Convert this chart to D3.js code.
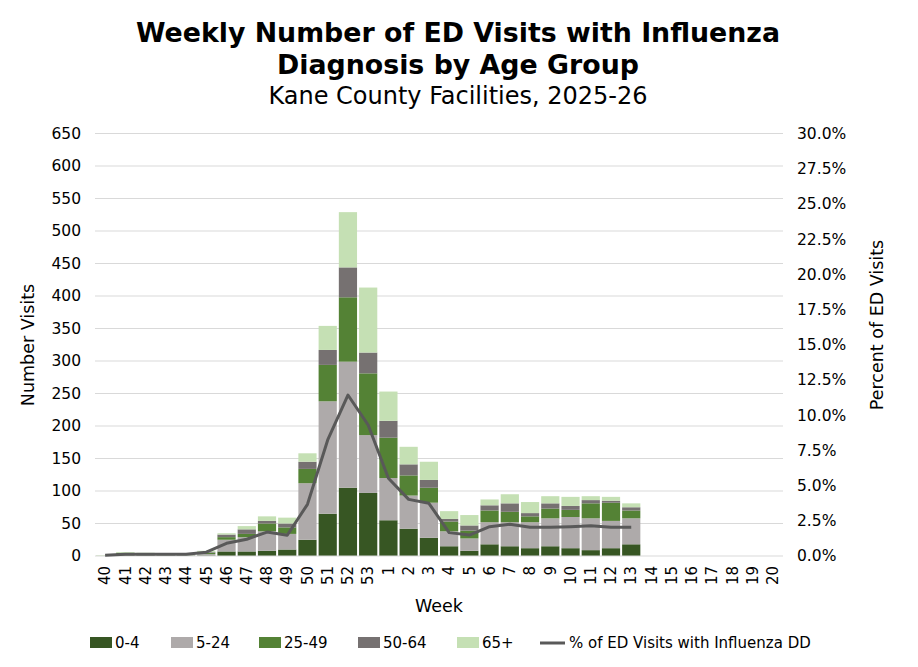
<!DOCTYPE html>
<html><head><meta charset="utf-8">
<script src="https://cdn.jsdelivr.net/npm/d3@7/dist/d3.min.js"></script>
<style>body{margin:0;background:#fff;}svg{font-family:"DejaVu Sans",Verdana,sans-serif;}</style>
</head><body><svg id="c" width="918" height="667"></svg>
<script>
const weeks = ["40","41","42","43","44","45","46","47","48","49","50","51","52","53","1","2","3","4","5","6","7","8","9","10","11","12","13","14","15","16","17","18","19","20"];
const age0_4   = [0,1,1,0,0,1,7,7,8,10,25,65,105,97,55,42,28,15,8,18,15,12,15,12,9,12,18];
const age5_24  = [0,1,1,1,1,2,18,22,30,24,87,173,194,89,65,51,54,23,19,34,37,40,43,48,49,42,40];
const age25_49 = [0,3,1,1,1,2,4,5,12,10,22,56,99,95,62,31,23,15,12,18,16,9,15,11,23,28,12];
const age50_64 = [0,0,0,0,0,1,4,7,4,6,11,23,46,32,26,17,12,4,8,8,13,5,8,6,5,3,5];
const age65p   = [1,1,2,1,1,2,2,5,7,9,13,37,85,100,45,27,28,12,16,9,14,17,11,14,6,6,6];
const pctFlu   = [0.05,0.12,0.12,0.12,0.13,0.27,0.9,1.19,1.7,1.47,3.67,8.24,11.43,9.3,5.52,4.02,3.74,1.66,1.49,2.08,2.25,2.04,2.04,2.08,2.15,2.04,2.04];
const seriesNames = ["0-4","5-24","25-49","50-64","65+"];
const seriesColors = ["#375623","#AEAAAA","#548235","#767171","#C5E0B4"];
const lineName = "% of ED Visits with Influenza DD";
const leftTicks = d3.range(0, 651, 50);
const rightTicks = d3.range(0, 30.01, 2.5);

const svg = d3.select("#c");
const m = {l:95, r:783, t:133.5, b:556};
const x = d3.scaleBand().domain(weeks).range([m.l, m.r]).paddingInner(0.1).paddingOuter(0.05);
const y = d3.scaleLinear().domain([0,650]).range([m.b, m.t]);
const y2 = d3.scaleLinear().domain([0,30]).range([m.b, m.t]);

// gridlines
svg.append("g").selectAll("line").data(leftTicks.slice(1)).join("line")
  .attr("x1", m.l).attr("x2", m.r).attr("y1", d=>y(d)).attr("y2", d=>y(d))
  .attr("stroke","#D9D9D9").attr("stroke-width",1);

// stacked data
const rows = age0_4.map((v,i)=>({week:weeks[i], "0-4":v, "5-24":age5_24[i], "25-49":age25_49[i], "50-64":age50_64[i], "65+":age65p[i]}));
const stack = d3.stack().keys(seriesNames)(rows);
svg.append("g").selectAll("g").data(stack).join("g")
  .attr("fill",(d,i)=>seriesColors[i])
  .selectAll("rect").data(d=>d).join("rect")
  .attr("x", d=>x(d.data.week)).attr("width", x.bandwidth())
  .attr("y", d=>y(d[1])).attr("height", d=>y(d[0])-y(d[1]));

// axis line
svg.append("line").attr("x1",m.l).attr("x2",m.r).attr("y1",m.b).attr("y2",m.b).attr("stroke","#D9D9D9");

// line
const line = d3.line().x((d,i)=>x(weeks[i])+x.bandwidth()/2).y(d=>y2(d));
svg.append("path").datum(pctFlu).attr("d", line).attr("fill","none")
  .attr("stroke","#595959").attr("stroke-width",3).attr("stroke-linejoin","round");

// left axis labels
const lax = d3.axisLeft(y).tickValues(leftTicks).tickSize(0).tickPadding(14);
const gl = svg.append("g").attr("transform",`translate(${m.l},0)`).call(lax);
gl.select(".domain").remove();
gl.selectAll("text").attr("font-size",15.5).attr("fill","#000").attr("font-family","DejaVu Sans");

const rax = d3.axisRight(y2).tickValues(rightTicks).tickSize(0).tickPadding(14).tickFormat(d=>d.toFixed(1)+"%");
const gr = svg.append("g").attr("transform",`translate(${m.r},0)`).call(rax);
gr.select(".domain").remove();
gr.selectAll("text").attr("font-size",15.5).attr("fill","#000").attr("font-family","DejaVu Sans");

// x labels
svg.append("g").selectAll("text").data(weeks).join("text")
  .attr("transform", d=>`translate(${x(d)+x.bandwidth()/2},566) rotate(-90)`)
  .attr("text-anchor","end").attr("dy","0.35em").attr("font-size",15).text(d=>d);

// titles
svg.append("text").attr("x",458).attr("y",42).attr("text-anchor","middle").attr("font-size",26.8).attr("font-weight","bold").text("Weekly Number of ED Visits with Influenza");
svg.append("text").attr("x",458).attr("y",74).attr("text-anchor","middle").attr("font-size",26.8).attr("font-weight","bold").text("Diagnosis by Age Group");
svg.append("text").attr("x",458).attr("y",104).attr("text-anchor","middle").attr("font-size",24).text("Kane County Facilities, 2025-26");

svg.append("text").attr("transform","translate(34,345) rotate(-90)").attr("text-anchor","middle").attr("font-size",17.5).text("Number Visits");
svg.append("text").attr("transform","translate(883,325) rotate(-90)").attr("text-anchor","middle").attr("font-size",17.5).text("Percent of ED Visits");
svg.append("text").attr("x",439).attr("y",612).attr("text-anchor","middle").attr("font-size",17.5).text("Week");

// legend
const legX = [90,171,259,358,457];
const lg = svg.append("g");
seriesNames.forEach((n,i)=>{
  lg.append("rect").attr("x",legX[i]).attr("y",637).attr("width",22).attr("height",11).attr("fill",seriesColors[i]);
  lg.append("text").attr("x",legX[i]+25).attr("y",648).attr("font-size",15).text(n);
});
lg.append("line").attr("x1",540).attr("x2",565).attr("y1",643).attr("y2",643).attr("stroke","#595959").attr("stroke-width",3);
lg.append("text").attr("x",569).attr("y",648).attr("font-size",15).text(lineName);
</script></body></html>
